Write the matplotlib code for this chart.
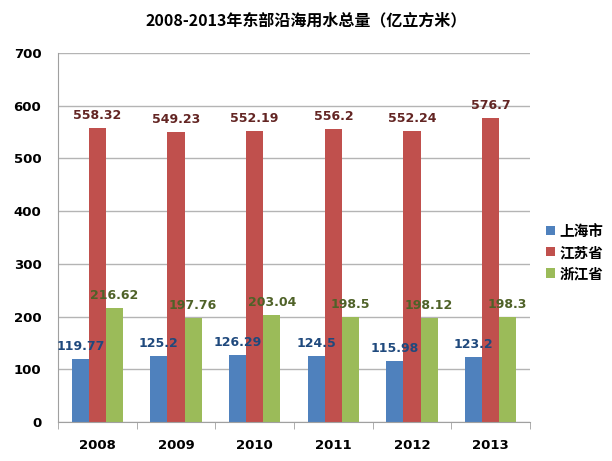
import numpy as np
import matplotlib.pyplot as plt
from matplotlib.ticker import FixedLocator

plt.rcParams['font.family'] = ['DejaVu Sans', 'Noto Sans CJK SC']

years = ['2008', '2009', '2010', '2011', '2012', '2013']
shanghai = [119.77, 125.2, 126.29, 124.5, 115.98, 123.2]
jiangsu = [558.32, 549.23, 552.19, 556.2, 552.24, 576.7]
zhejiang = [216.62, 197.76, 203.04, 198.5, 198.12, 198.3]
series_names = ['上海市', '江苏省', '浙江省']
yticks = [0, 100, 200, 300, 400, 500, 600, 700]

bar_colors = ['#4F81BD', '#C0504D', '#9BBB59']
label_colors = ['#1F497D', '#632523', '#4F6228']

fig = plt.figure(figsize=(6.12, 4.61), dpi=100)
ax = fig.add_axes([58 / 612, 1 - 422 / 461, 472 / 612, 369 / 461])

x = np.arange(len(years))
w = 0.217
for i, (vals, name) in enumerate(zip([shanghai, jiangsu, zhejiang], series_names)):
    pos = x + (i - 1) * w
    ax.bar(pos, vals, width=w, color=bar_colors[i], label=name, zorder=2)
    for px, v in zip(pos, vals):
        ax.annotate(f'{v:g}', (px, v), xytext=(0, 6), textcoords='offset pixels',
                    ha='center', va='bottom', fontsize=9, fontweight='bold',
                    color=label_colors[i], zorder=3)

ax.set_xlim(-0.5, len(years) - 0.5)
ax.set_ylim(0, 700)
ax.set_yticks(yticks)
ax.set_yticklabels([str(t) for t in yticks], fontsize=9.5, fontweight='bold')
ax.set_xticks(x)
ax.set_xticklabels(years, fontsize=9.5, fontweight='bold')
ax.xaxis.set_minor_locator(FixedLocator(np.arange(-0.5, len(years), 1)))
ax.tick_params(axis='x', which='major', length=0, pad=12)
ax.tick_params(axis='x', which='minor', length=5, color='#A0A0A0', direction='out')
ax.tick_params(axis='y', length=0, pad=12)
ax.grid(axis='y', color='#B4B4B4', linewidth=1, zorder=0)
for s in ['top', 'right']:
    ax.spines[s].set_visible(False)
for s in ['left', 'bottom']:
    ax.spines[s].set_color('#A0A0A0')

fig.text(0.5, 1 - 20 / 461, '2008-2013年东部沿海用水总量（亿立方米）', ha='center', va='center',
         fontsize=11.5, fontweight='bold', family=['Noto Sans CJK SC', 'DejaVu Sans'])

leg = fig.legend(loc='center left', bbox_to_anchor=(533 / 612, 1 - 252 / 461), frameon=False,
                 handlelength=0.6, handleheight=0.6, handletextpad=0.3, labelspacing=0.35,
                 prop={'family': 'Noto Sans CJK SC', 'size': 10.5, 'weight': 'bold'})

fig.savefig('out.png', dpi=100)
